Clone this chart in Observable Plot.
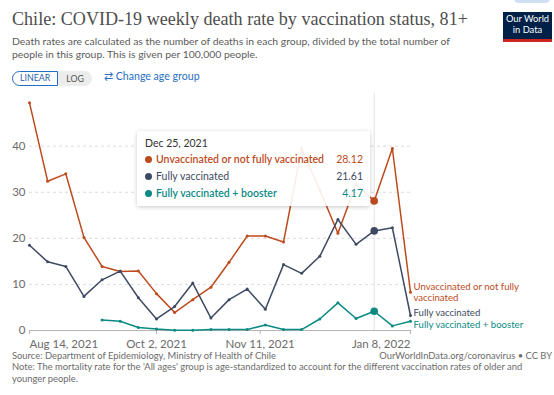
<!DOCTYPE html>
<html><head><meta charset="utf-8">
<script src="https://cdn.jsdelivr.net/npm/d3@7"></script>
<script src="https://cdn.jsdelivr.net/npm/@observablehq/plot@0.6"></script>
<style>
body{margin:0;background:#fff;font-family:Lato,sans-serif;}
#wrap{position:relative;width:554px;height:395px;overflow:hidden;background:#fff;}
.abs{position:absolute;white-space:nowrap;}
#title{left:12px;top:9px;font-family:"Liberation Serif",serif;font-size:18.1px;color:#4e4e4e;}
#sub{left:12px;top:35px;font-size:10.4px;line-height:13px;color:#5b5b5b;}
#btns{left:12px;top:71px;height:15px;display:flex;font-size:8.8px;}
#btns .lin{border:1.2px solid #1f6fc5;border-radius:8px 0 0 8px;color:#1f5fa8;padding:0 7px 0 7px;line-height:12.6px;background:#fff;}
#btns .log{background:#ececec;color:#555;border-radius:0 8px 8px 0;padding:0 8px 0 8px;line-height:15px;}
#change{left:104px;top:70px;font-size:10.6px;color:#2a6fc0;}
#logo{left:503px;top:12px;width:49px;height:25px;background:#002147;border-bottom:3px solid #ce261e;color:#fff;font-size:9.3px;line-height:10.5px;text-align:center;padding-top:2px;box-sizing:content-box;}
#pill{left:514px;top:-6px;width:36px;height:9px;border-radius:5px;background:#cfe0f3;}
#chart{position:absolute;left:0;top:88px;}
#tip{left:137px;top:131px;width:233px;height:75px;background:rgba(255,255,255,0.9);box-shadow:0 1px 4px rgba(0,0,0,0.22);border-radius:2px;font-size:10.5px;}
#tip .d{position:absolute;left:8px;top:6px;color:#333;}
#tip .r{position:absolute;left:8px;width:218px;height:14px;}
#tip .dot{position:absolute;left:0;top:3px;width:7px;height:7px;border-radius:50%;}
#tip .n{position:absolute;left:11px;top:0;}
#tip .v{position:absolute;right:0;top:0;}
#src{left:12px;top:350px;font-size:9.4px;color:#6b6b6b;}
#url{right:2px;top:350px;font-size:9.4px;color:#6b6b6b;}
#note{left:12px;top:361px;font-size:9.4px;line-height:11.5px;color:#6b6b6b;}
</style>
</head><body>
<div id="wrap">
  <div id="pill" class="abs"></div>
  <div id="title" class="abs">Chile: COVID-19 weekly death rate by vaccination status, 81+</div>
  <div id="sub" class="abs">Death rates are calculated as the number of deaths in each group, divided by the total number of<br>people in this group. This is given per 100,000 people.</div>
  <div id="btns" class="abs"><span class="lin">LINEAR</span><span class="log">LOG</span></div>
  <div id="change" class="abs">&#8644; Change age group</div>
  <div id="logo" class="abs">Our World<br>in Data</div>
  <div id="chart"></div>
  <div id="tip" class="abs"></div>
  <div id="src" class="abs">Source: Department of Epidemiology, Ministry of Health of Chile</div>
  <div id="url" class="abs">OurWorldInData.org/coronavirus • CC BY</div>
  <div id="note" class="abs">Note: The mortality rate for the 'All ages' group is age-standardized to account for the different vaccination rates of older and<br>younger people.</div>
</div>
<script>
// ---- data ----
const weeks = ["2021-08-14","2021-08-21","2021-08-28","2021-09-04","2021-09-11","2021-09-18","2021-09-25",
  "2021-10-02","2021-10-09","2021-10-16","2021-10-23","2021-10-30","2021-11-06","2021-11-13","2021-11-20",
  "2021-11-27","2021-12-04","2021-12-11","2021-12-18","2021-12-25","2022-01-01","2022-01-08"];
const unvaccinated = [49.4,32.4,34.0,20.2,13.9,12.8,12.9,8.0,3.9,6.7,9.4,14.8,20.5,20.5,19.2,39.5,30.5,21.1,31.8,28.12,39.5,8.3];
const fullyVaccinated = [18.5,14.9,13.9,7.4,11.0,12.9,7.1,2.5,5.2,10.3,2.7,6.7,9.0,4.6,14.3,12.4,16.1,24.1,18.7,21.61,22.3,3.25];
const booster = [null,null,null,null,2.3,2.0,0.65,0.3,0.05,0.05,0.2,0.2,0.2,1.2,0.2,0.2,2.5,6.0,2.6,4.17,1.0,2.0];
const seriesNames = ["Unvaccinated or not fully vaccinated","Fully vaccinated","Fully vaccinated + booster"];
const seriesLabels = ["Unvaccinated or not fully\nvaccinated","Fully vaccinated","Fully vaccinated + booster"];
const colors = ["#bd4a1d","#3e4a62","#0b8a83"];
const xTicks = ["2021-08-14","2021-10-02","2021-11-11","2022-01-08"];
const yTicks = [0,10,20,30,40];
const hoverDate = "2021-12-25";

// ---- build ----
const parse = d3.utcParse("%Y-%m-%d");
const fmt = d3.utcFormat("%b %-d, %Y");
const valueSets = [unvaccinated, fullyVaccinated, booster];
const series = valueSets.map((vals, s) => weeks.map((w, i) => ({date: parse(w), value: vals[i], s})).filter(d => d.value != null));
const hoverIdx = weeks.indexOf(hoverDate);
const hover = valueSets.map((vals, s) => ({date: parse(hoverDate), value: vals[hoverIdx], s}));
const last = series.map(a => a[a.length - 1]);
const tx = xTicks.map(parse);

const marks = [
  Plot.gridY(yTicks.filter(t => t > 0), {stroke: "#dcdcdc", strokeOpacity: 1, strokeDasharray: "3,3"}),
  Plot.ruleX([parse(hoverDate)], {stroke: "#e2e2e2", y1: 0, y2: 51.5}),
  Plot.ruleY([0], {stroke: "#b5b5b5"}),
  Plot.axisY({ticks: yTicks, tickSize: 0, tickPadding: 4, fontSize: 11.5, fill: "#6b6b6b", label: null}),
  Plot.axisX({ticks: [tx[0]], tickFormat: fmt, tickSize: 4, stroke: "#b5b5b5", fill: "#6b6b6b", fontSize: 11.5, textAnchor: "start", label: null}),
  Plot.axisX({ticks: [tx[1], tx[2]], tickFormat: fmt, tickSize: 4, stroke: "#b5b5b5", fill: "#6b6b6b", fontSize: 11.5, label: null}),
  Plot.axisX({ticks: [tx[3]], tickFormat: fmt, tickSize: 4, stroke: "#b5b5b5", fill: "#6b6b6b", fontSize: 11.5, textAnchor: "end", label: null})
];
series.forEach((data, s) => {
  marks.push(Plot.line(data, {x: "date", y: "value", stroke: colors[s], strokeWidth: 1.5}));
  marks.push(Plot.dot(data, {x: "date", y: "value", fill: colors[s], r: 1.5}));
});
hover.forEach((d, s) => marks.push(Plot.dot([d], {x: "date", y: "value", fill: colors[s], r: 3.8})));
const dys = [0, -2.5, 2.8];
last.forEach((d, s) => marks.push(Plot.text([d], {x: "date", y: "value", text: () => seriesLabels[s], fill: colors[s],
  textAnchor: "start", dx: 3, dy: dys[s], fontSize: 9.6, lineHeight: 1.12, lineAnchor: "middle"})));

const chart = Plot.plot({
  width: 554, height: 262,
  marginLeft: 29, marginRight: 144, marginTop: 11.6, marginBottom: 20,
  x: {type: "utc", domain: [parse(weeks[0]), parse(weeks[weeks.length - 1])]},
  y: {domain: [0, 50]},
  style: {fontFamily: "Lato, sans-serif", background: "transparent", overflow: "visible"},
  marks
});
document.getElementById("chart").appendChild(chart);

// tooltip from data
const tip = document.getElementById("tip");
let html = `<div class="d">${fmt(parse(hoverDate))}</div>`;
const rowTops = [22, 39, 56];
seriesNames.forEach((n, s) => {
  html += `<div class="r" style="top:${rowTops[s]}px;color:${colors[s]};font-weight:${s === 1 ? 400 : 600}">` +
    `<span class="dot" style="background:${colors[s]}"></span><span class="n">${n}</span>` +
    `<span class="v" style="font-weight:400">${valueSets[s][hoverIdx].toFixed(2)}</span></div>`;
});
tip.innerHTML = html;
</script>
</body></html>
